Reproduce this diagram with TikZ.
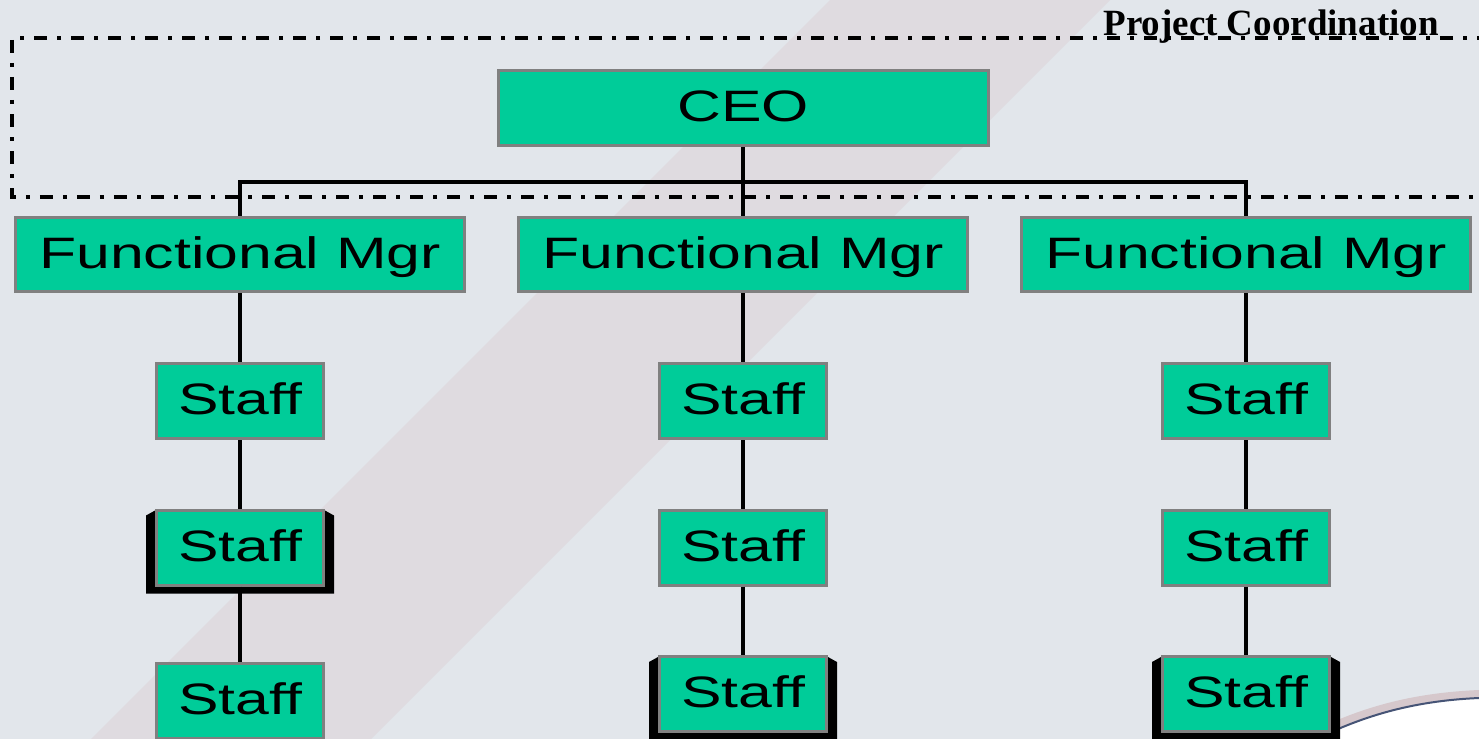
\documentclass[tikz,border=0pt]{standalone}
\usepackage{fontspec}
\newfontfamily\boxfont[FakeStretch=1.38]{Liberation Sans}
\newfontfamily\titlefont{Liberation Serif}
\usetikzlibrary{calc,backgrounds}
\definecolor{boxgreen}{RGB}{0,204,153}
\definecolor{boxgray}{RGB}{128,128,128}
\definecolor{slide}{RGB}{226,230,235}
\definecolor{band}{RGB}{223,219,224}
\definecolor{swoosh}{RGB}{70,84,118}
\definecolor{glow}{RGB}{214,200,204}
\tikzset{
  orgbox/.style =   {shape=rectangle, draw=boxgray, line width=1.5pt,
                    fill=boxgreen, inner sep=0pt,
                    text height=15pt, text depth=1.5pt,
                    font=\boxfont\fontsize{22}{26}\selectfont},
  ceo/.style =      {orgbox, minimum width=245pt, minimum height=37.5pt},
  mgr/.style =      {orgbox, minimum width=224.5pt, minimum height=37pt},
  staff/.style =    {orgbox, minimum width=83.5pt, minimum height=37.5pt},
  dashbox/.style =  {line width=1.7pt, dash pattern=on 6.5pt off 5pt on 2pt off 5pt},
  title/.style =    {font=\titlefont\bfseries\fontsize{18.5}{20}\selectfont, inner sep=0pt},
}

\begin{document}
\begin{tikzpicture}
	[
		x                       = 0.5pt,
		y                       = 0.5pt,
		grow                    = down,
		level distance          = 73.25pt,
		sibling distance        = 251.5pt,
		edge from parent/.style = {draw, line width=1.8pt},
		level 1/.style          = {edge from parent path={(\tikzparentnode.south) -- ++(0,-35) -| (\tikzchildnode.north)}}
	]
	\useasboundingbox (0,0) rectangle (1479,-739);
	% slide background
	\begin{scope}[on background layer]
		\fill [slide] (0,0) rectangle (1479,-739);
		\fill [band] (830,0) -- (1110,0) -- (371,-739) -- (91,-739) -- cycle;
		\draw [glow, line width=4pt] (1310,-737) .. controls (1360,-712) and (1410,-697) .. (1479,-694);
		\fill [white] (1310,-742) .. controls (1360,-717) and (1410,-701) .. (1479,-698) -- (1479,-745) -- cycle;
		\draw [swoosh, line width=1pt] (1310,-742) .. controls (1360,-717) and (1410,-701) .. (1479,-698);
	\end{scope}
	% project coordination frame
	\draw [dashbox] (1490,-38) -| (12,-197) -- (1490,-197);
	\node [title, anchor=base west] (pc) at (1103,-35) {Project Coordination};
	\node [ceo] (ceo) at (743,-108) {CEO}
		child {node [mgr] (m1) {Functional Mgr}
			child {node [staff] (s11) {Staff}
				child {node [staff] (s12) {Staff}
					child [level distance=76.5pt] {node [staff] (s13) {Staff}}
				}
			}
		}
		child {node [mgr] (m2) {Functional Mgr}
			child {node [staff] (s21) {Staff}
				child {node [staff] (s22) {Staff}
					child {node [staff] (s23) {Staff}}
				}
			}
		}
		child {node [mgr] (m3) {Functional Mgr}
			child {node [staff] (s31) {Staff}
				child {node [staff] (s32) {Staff}
					child {node [staff] (s33) {Staff}}
				}
			}
		};
	% black frames behind the marked staff
	\begin{scope}[on background layer]
		\foreach \s in {s12,s23,s33}
			\fill [black] ($(\s.north west)+(0,-2)$) -- ($(\s.north west)+(-9,-7)$)
				-- ($(\s.south west)+(-9,-7)$) -- ($(\s.south east)+(9,-7)$)
				-- ($(\s.north east)+(9,-7)$) -- ($(\s.north east)+(0,-2)$) -- cycle;
	\end{scope}
\end{tikzpicture}
\end{document}
